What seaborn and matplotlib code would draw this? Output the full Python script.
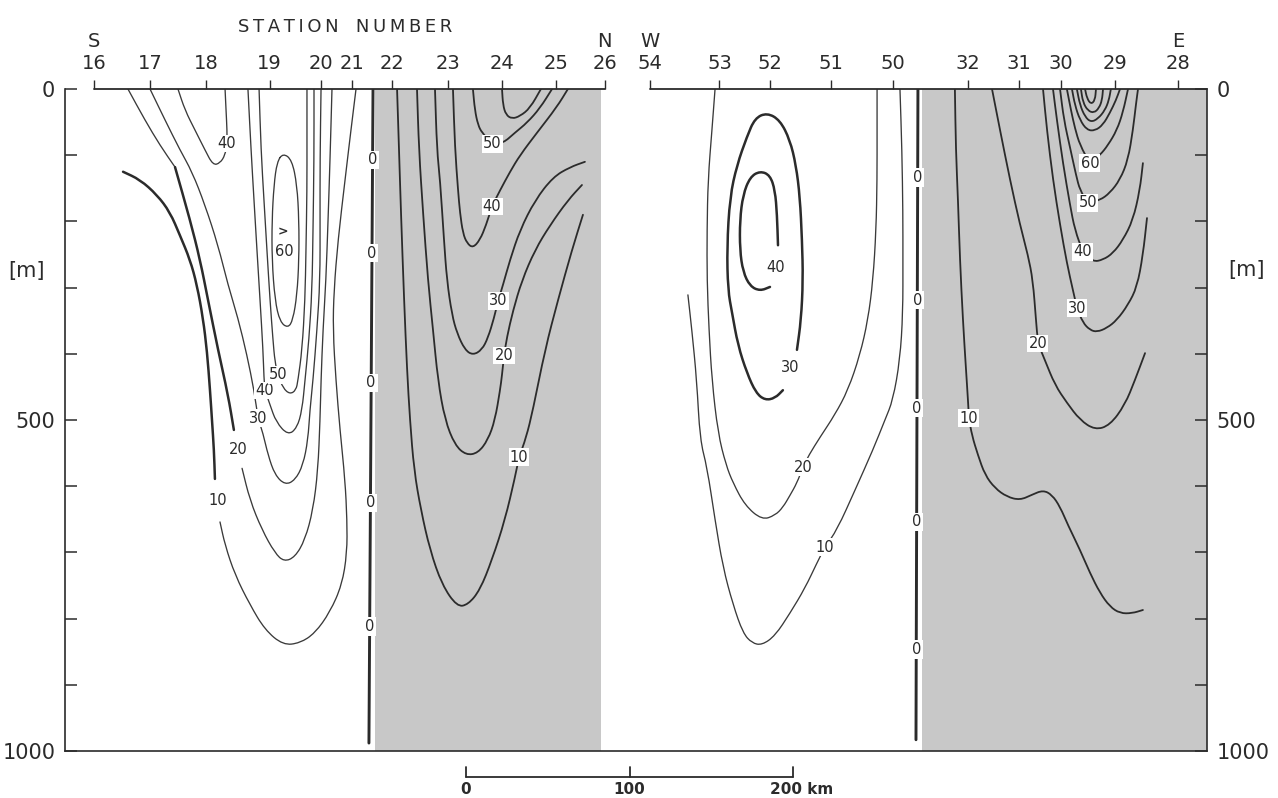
import matplotlib
matplotlib.use("Agg")
import numpy as np
import matplotlib.pyplot as plt
from matplotlib.path import Path
from matplotlib.patches import PathPatch
import seaborn as sns

# ---------------------------------------------------------------------------
# Section geometry: distance along the plotted track (km), depth (m)
# ---------------------------------------------------------------------------
sn_stations = ["16", "17", "18", "19", "20", "21", "22", "23", "24", "25", "26"]
sn_station_km = [18.0, 52.0, 86.2, 125.1, 156.3, 175.5, 199.9, 234.1, 267.1, 300.1, 330.0]
we_stations = ["54", "53", "52", "51", "50", "32", "31", "30", "29", "28"]
we_station_km = [357.8, 400.3, 431.2, 468.3, 506.3, 552.5, 583.3, 608.9, 642.2, 680.7]
track_end_km = 698.5

depth_ticks = [0, 100, 200, 300, 400, 500, 600, 700, 800, 900, 1000]
depth_labels = ["0", "", "", "", "", "500", "", "", "", "", "1000"]

# regions of negative values (shaded)
sn_shade_km = [189.5, 327.8]
we_shade_km = [524.0, 698.5]

# zero isolines
sn_zero_km = [188.4, 185.9]
sn_zero_m = [0, 988]
sn_zero_label_m = [107, 248, 444, 625, 812]
we_zero_km = [521.7, 520.5]
we_zero_m = [0, 983]
we_zero_label_m = [134, 319, 482, 654, 847]

# ---------------------------------------------------------------------------
# S-N section isolines
# ---------------------------------------------------------------------------
sn10_a_km = [35.5, 45.9, 56.3, 64.2, 70.3, 76.5, 80.7, 84.4, 86.9, 88.7, 89.9, 91.1, 91.7]
sn10_a_m = [125, 137, 160, 186, 221, 258, 296, 346, 397, 455, 500, 545, 589]
sn10_b_km = [94.8, 97.9, 104.0, 113.1, 122.3, 133.4, 143.7, 152.9, 162.1, 169.4, 172.5,
             172.5, 171.3, 168.2, 165.7, 163.9, 164.5, 167.0, 171.3, 174.9, 178.0]
sn10_b_m = [654, 689, 734, 779, 817, 840, 837, 822, 790, 749, 701,
            651, 591, 515, 440, 364, 304, 228, 137, 62, 0]

sn20_top_km = [38.5, 48.9, 58.1, 67.3]
sn20_top_m = [0, 47, 85, 118]
sn20_a_km = [67.3, 76.5, 82.6, 87.5, 93.6, 99.7, 103.3]
sn20_a_m = [118, 198, 258, 319, 394, 462, 515]
sn20_b_km = [108.3, 113.1, 120.5, 128.4, 134.0, 140.7, 146.8, 151.7, 154.7, 156.0,
             156.6, 157.8, 159.6, 160.9, 162.1, 163.3]
sn20_b_m = [573, 621, 666, 701, 714, 707, 681, 636, 576, 500,
            440, 364, 289, 198, 107, 0]

sn30_km = [52.0, 61.2, 70.3, 77.7, 85.6, 93.6, 99.7, 105.8, 111.3, 115.6, 118.0,
           121.1, 124.2, 128.4, 134.6, 140.7, 145.6, 148.6, 149.8, 151.7, 154.1,
           156.0, 156.0, 156.0, 156.6]
sn30_m = [0, 47, 92, 125, 175, 236, 296, 346, 402, 455, 497,
          520, 553, 583, 598, 591, 568, 530, 485, 440, 364,
          289, 198, 107, 0]

sn40_km = [111.9, 113.8, 115.6, 117.4, 119.3, 121.1, 121.7, 122.3, 125.4, 129.1,
           136.4, 141.9, 145.0, 146.8, 149.2, 151.1, 151.7, 152.3, 152.3]
sn40_m = [0, 92, 168, 243, 319, 394, 437, 455, 477, 503,
          523, 512, 485, 440, 379, 304, 213, 107, 0]

sn50_km = [118.7, 119.9, 121.7, 123.5, 125.4, 127.2, 128.4, 130.3, 133.4, 137.6,
           141.3, 142.5, 145.0, 146.8, 147.4, 148.0, 148.0, 148.0]
sn50_m = [0, 92, 168, 243, 319, 379, 412, 432, 452, 461,
          455, 440, 394, 319, 243, 153, 77, 0]

sn60_km = [133.4, 138.8, 141.9, 143.1, 143.1, 141.9, 139.4, 136.4, 131.5, 128.4,
           126.6, 126.6, 127.8, 129.7]
sn60_m = [97, 107, 145, 198, 258, 311, 349, 361, 352, 319, 258, 198, 145, 110]

sn40_top_km = [69.1, 73.4, 79.5, 85.6, 90.5, 94.8, 97.9, 99.1, 99.1, 98.5, 97.9]
sn40_top_m = [0, 32, 62, 92, 115, 112, 100, 82, 62, 32, 0]

# shaded part of the S-N section
sn_g10_km = [203.1, 204.3, 205.5, 207.4, 209.2, 211.0, 213.5, 217.7, 223.2, 230.6, 239.8,
             246.5, 253.8, 261.2, 269.1, 275.2, 277.7, 282.0, 286.2, 293.6, 301.5,
             310.1, 316.8]
sn_g10_m = [0, 92, 187, 319, 424, 500, 576, 636, 696, 749, 782,
            779, 757, 711, 651, 587, 556, 527, 485, 394, 319,
            243, 190]
sn_g20_km = [215.3, 216.5, 219.0, 222.0, 225.1, 228.1, 232.4, 238.5, 245.3, 252.6, 258.7,
             263.0, 266.1, 267.3, 268.5, 270.3, 274.0, 279.5, 287.5, 296.6, 307.6, 316.2]
sn_g20_m = [0, 92, 187, 289, 364, 440, 500, 538, 553, 550, 530,
            500, 455, 432, 403, 375, 335, 289, 243, 206, 168, 145]
sn_g30_km = [226.3, 227.5, 229.4, 231.8, 233.6, 236.7, 239.8, 244.6, 249.5, 255.0, 258.7,
             262.4, 264.9, 267.9, 272.2, 278.3, 287.5, 298.5, 308.9, 318.0]
sn_g30_m = [0, 92, 137, 228, 289, 341, 369, 394, 402, 394, 376,
            346, 320, 296, 258, 213, 168, 133, 118, 110]
sn_g40_km = [237.3, 238.5, 240.4, 241.6, 243.4, 245.9, 249.5, 253.8, 257.5, 261.2,
             266.1, 272.2, 278.3, 288.7, 300.9, 307.6]
sn_g40_m = [0, 88, 153, 187, 218, 233, 240, 228, 206, 177, 153, 125, 100, 66, 27, 0]
sn_g50_km = [249.5, 250.7, 252.6, 255.0, 261.2, 267.9, 275.2, 282.6, 290.5, 297.9]
sn_g50_m = [0, 32, 54, 66, 82, 82, 66, 51, 29, 0]
sn_g60_km = [267.3, 267.9, 269.7, 273.4, 278.3, 284.4, 291.1]
sn_g60_m = [0, 24, 39, 45, 41, 29, 0]

sn_label_text = ["10", "20", "30", "40", "50", "40", "50", "40", "30", "20", "10"]
sn_label_km = [93.6, 105.8, 118.0, 122.3, 130.3, 99.1, 261.2, 261.2, 264.9, 268.5, 277.7]
sn_label_m = [621, 545, 497, 455, 432, 82, 83, 177, 320, 403, 556]

# ---------------------------------------------------------------------------
# W-E section isolines
# ---------------------------------------------------------------------------
we40_km = [436.1, 435.5, 434.3, 431.2, 425.1, 419.0, 414.7, 412.8, 412.8, 414.7, 419.0, 425.1, 431.2]
we40_m = [236, 190, 153, 130, 124, 133, 160, 198, 243, 276, 298, 305, 299]
we30_km = [447.7, 450.2, 451.4, 450.8, 449.5, 447.1, 443.4, 437.3, 429.4, 422.0, 417.1,
           411.0, 406.7, 404.9, 405.5, 408.0, 411.6, 417.1, 422.6, 428.1, 434.3, 439.1]
we30_m = [394, 349, 289, 228, 163, 115, 77, 47, 36, 44, 72,
          115, 163, 239, 304, 338, 387, 429, 459, 470, 467, 455]
we20_km = [397.6, 395.7, 393.3, 392.7, 392.7, 393.9, 395.7, 399.4, 404.3, 408.6, 415.9,
           426.3, 434.3, 439.1, 443.4, 447.7, 451.4, 455.0, 461.8, 470.9, 478.9,
           486.2, 491.1, 494.2, 496.1, 496.7, 496.7, 496.7]
we20_m = [0, 62, 137, 213, 289, 364, 440, 520, 568, 595, 629,
          651, 644, 632, 614, 595, 571, 553, 526, 492, 455,
          402, 349, 289, 213, 137, 62, 0]
we10_km = [381.0, 383.4, 386.4, 388.4, 392.7, 397.6, 402.4, 408.6, 414.7, 420.2, 426.3,
           434.3, 443.4, 452.6, 459.9, 464.8, 472.2, 483.2, 494.2, 501.5, 506.4,
           510.7, 512.5, 512.5, 512.5, 511.9, 510.7]
we10_m = [311, 364, 440, 530, 571, 651, 722, 779, 822, 837, 840,
          826, 792, 754, 716, 692, 666, 606, 545, 500, 470,
          409, 338, 258, 187, 92, 0]

we_g10_km = [544.3, 544.9, 546.2, 547.4, 549.2, 551.1, 552.3, 552.9, 554.7, 558.4, 562.7,
             568.8, 576.1, 584.1, 591.4, 598.2, 603.7, 608.6, 613.5, 620.8, 626.9,
             633.0, 639.1, 645.3, 652.6, 659.3]
we_g10_m = [0, 92, 168, 258, 349, 424, 470, 497, 523, 553, 583,
            603, 616, 621, 613, 606, 613, 631, 659, 696, 731,
            761, 782, 792, 792, 787]
we_g20_km = [567.0, 571.9, 578.0, 584.1, 589.0, 592.0, 593.9, 595.1, 599.4, 605.5, 612.8,
             620.8, 630.0, 639.1, 648.3, 654.4, 660.6]
we_g20_m = [0, 62, 137, 205, 251, 289, 349, 384, 410, 447, 474,
            500, 515, 508, 477, 440, 399]
we_g30_km = [598.2, 600.6, 604.3, 608.6, 612.8, 616.5, 619.0, 622.6, 626.9, 631.2, 637.3,
             643.4, 650.2, 655.7, 659.3, 661.8]
we_g30_m = [0, 62, 137, 205, 263, 304, 331, 353, 364, 367, 361, 349, 326, 299, 251, 195]
we_g40_km = [604.3, 606.7, 610.4, 614.7, 617.7, 622.6, 628.7, 634.9, 641.0, 647.1, 653.2, 657.4, 659.3]
we_g40_m = [0, 47, 112, 175, 213, 246, 261, 258, 248, 228, 198, 153, 112]
we_g50_km = [608.6, 611.0, 614.7, 618.4, 620.8, 625.7, 633.0, 639.1, 645.3, 650.2, 653.2, 655.0, 656.3]
we_g50_m = [0, 47, 88, 130, 153, 172, 168, 157, 137, 107, 62, 24, 0]
we_g60_km = [612.8, 615.3, 617.7, 620.8, 626.9, 633.0, 637.9, 643.4, 647.1, 650.2]
we_g60_m = [0, 32, 59, 85, 112, 100, 85, 62, 35, 0]
we_g70_km = [615.9, 617.7, 620.8, 625.1, 630.0, 634.9, 639.1, 642.8, 645.3]
we_g70_m = [0, 24, 47, 62, 63, 54, 36, 17, 0]
we_g80_km = [618.9, 620.8, 623.9, 627.5, 631.8, 636.1, 638.5, 639.7]
we_g80_m = [0, 24, 42, 50, 45, 32, 17, 0]
we_g90_km = [621.4, 622.6, 625.7, 629.4, 632.4, 634.3, 634.9]
we_g90_m = [0, 20, 33, 36, 29, 17, 0]
we_g100_km = [623.9, 625.1, 627.5, 630.0, 630.6]
we_g100_m = [0, 14, 23, 17, 0]

we_label_text = ["40", "30", "20", "10", "10", "20", "30", "40", "50", "60"]
we_label_km = [434.9, 443.4, 451.4, 464.8, 552.9, 595.1, 619.0, 622.6, 625.7, 626.9]
we_label_m = [269, 420, 571, 692, 497, 384, 331, 246, 172, 112]

# distance scale
scale_origin_km = 245.3
scale_ticks_km = [0, 100, 200]

# ---------------------------------------------------------------------------
INK = "#2b2b2b"
INK_THIN = "#3a3a3a"
SHADE = "#c8c8c8"

sns.set_theme(style="white")
plt.rcParams["font.family"] = ["DejaVu Sans"]

fig = plt.figure(figsize=(12.78, 7.98), dpi=100, facecolor="white")
ax = fig.add_axes([65 / 1278, 47 / 798, 1142 / 1278, 662 / 798])
ax.set_facecolor("white")


def iso_path(xs, zs, closed=False):
    """Smooth quadratic path through the given isoline vertices."""
    pts = np.column_stack([xs, zs]).astype(float)
    if closed:
        mids = (pts + np.roll(pts, -1, axis=0)) / 2
        verts = [mids[-1]]
        codes = [Path.MOVETO]
        for i in range(len(pts)):
            verts += [pts[i], mids[i]]
            codes += [Path.CURVE3, Path.CURVE3]
        return Path(verts, codes)
    mids = (pts[:-1] + pts[1:]) / 2
    verts = [pts[0], mids[0]]
    codes = [Path.MOVETO, Path.LINETO]
    for i in range(1, len(pts) - 1):
        verts += [pts[i], mids[i]]
        codes += [Path.CURVE3, Path.CURVE3]
    verts.append(pts[-1])
    codes.append(Path.LINETO)
    return Path(verts, codes)


def draw_iso(xs, zs, lw, closed=False):
    color = INK if lw > 1.2 else INK_THIN
    ax.add_patch(PathPatch(iso_path(xs, zs, closed), fill=False, edgecolor=color,
                           lw=lw, capstyle="round", joinstyle="round", zorder=2))


# shading of negative region
for lo, hi in (sn_shade_km, we_shade_km):
    ax.axvspan(lo, hi, color=SHADE, lw=0, zorder=0)

THIN, MID, THICK = 0.95, 1.3, 1.8

draw_iso(sn10_a_km, sn10_a_m, THICK)
draw_iso(sn10_b_km, sn10_b_m, THIN)
draw_iso(sn20_top_km, sn20_top_m, THIN)
draw_iso(sn20_a_km, sn20_a_m, THICK)
draw_iso(sn20_b_km, sn20_b_m, THIN)
draw_iso(sn30_km, sn30_m, THIN)
draw_iso(sn40_km, sn40_m, THIN)
draw_iso(sn50_km, sn50_m, THIN)
draw_iso(sn60_km, sn60_m, THIN, closed=True)
draw_iso(sn40_top_km, sn40_top_m, THIN)
for xs, zs in ((sn_g10_km, sn_g10_m), (sn_g20_km, sn_g20_m), (sn_g30_km, sn_g30_m),
               (sn_g40_km, sn_g40_m), (sn_g50_km, sn_g50_m), (sn_g60_km, sn_g60_m)):
    draw_iso(xs, zs, MID)

draw_iso(we40_km, we40_m, THICK)
draw_iso(we30_km, we30_m, THICK)
draw_iso(we20_km, we20_m, THIN)
draw_iso(we10_km, we10_m, THIN)
for xs, zs in ((we_g10_km, we_g10_m), (we_g20_km, we_g20_m), (we_g30_km, we_g30_m),
               (we_g40_km, we_g40_m), (we_g50_km, we_g50_m), (we_g60_km, we_g60_m),
               (we_g70_km, we_g70_m), (we_g80_km, we_g80_m), (we_g90_km, we_g90_m),
               (we_g100_km, we_g100_m)):
    draw_iso(xs, zs, MID)

# zero isolines
for xs, zs, labs in ((sn_zero_km, sn_zero_m, sn_zero_label_m),
                     (we_zero_km, we_zero_m, we_zero_label_m)):
    sns.lineplot(x=xs, y=zs, sort=False, estimator=None, color=INK, lw=2.1, ax=ax, zorder=2)
    for z in labs:
        xz = np.interp(z, zs, xs)
        ax.text(xz, z, "0", ha="center", va="center", fontsize=10.5, color=INK, zorder=4,
                bbox=dict(boxstyle="square,pad=0.12", fc="white", ec="none"))

# isoline labels
for texts, xs, zs in ((sn_label_text, sn_label_km, sn_label_m),
                      (we_label_text, we_label_km, we_label_m)):
    for t, x, z in zip(texts, xs, zs):
        ax.text(x, z, t, ha="center", va="center", fontsize=10.5, color=INK, zorder=4,
                bbox=dict(boxstyle="square,pad=0.08", fc="white", ec="none"))
ax.text(133.4, 216, ">", ha="center", va="center", fontsize=9, fontweight="bold", color=INK)
ax.text(134.0, 245, "60", ha="center", va="center", fontsize=10.5, color=INK)

# station axis along the sea surface
ax.plot([sn_station_km[0], sn_station_km[-1]], [0, 0], color=INK, lw=1.3, clip_on=False, zorder=5)
ax.plot([we_station_km[0], track_end_km], [0, 0], color=INK, lw=1.3, clip_on=False, zorder=5)
ax.set_xticks(sn_station_km + we_station_km)
ax.set_xticklabels(sn_stations + we_stations)
ax.tick_params(axis="x", which="both", top=True, bottom=False, labeltop=True, labelbottom=False,
               direction="out", length=6.5, width=1.0, color=INK, labelcolor=INK,
               labelsize=14, pad=5)
for t, x in (("S", sn_station_km[0]), ("N", sn_station_km[-1]),
             ("W", we_station_km[0]), ("E", we_station_km[-1])):
    ax.text(x, -71, t, ha="center", va="center", fontsize=14, color=INK, clip_on=False)

ax.set_xlim(0, track_end_km)
ax.set_ylim(1000, 0)
ax.set_yticks(depth_ticks)
ax.set_yticklabels(depth_labels)
ax.tick_params(axis="y", which="both", left=True, right=True, labelleft=True, labelright=True,
               direction="in", length=8.5, width=1.1, color=INK, labelcolor=INK,
               labelsize=15, pad=7)
ax.set_xlabel("")
ax.set_ylabel("")
ax.spines["top"].set_visible(False)
for s in ("left", "right", "bottom"):
    ax.spines[s].set_color(INK)
    ax.spines[s].set_linewidth(1.2)

title_text = "\u2009".join("STATION") + "   " + "\u2009".join("NUMBER")
fig.text(345 / 1278, 1 - 27 / 798, title_text, ha="center", va="center",
         fontsize=13, color=INK)
fig.text(27 / 1278, 1 - 271 / 798, "[m]", ha="center", va="center", fontsize=15, color=INK)
fig.text(1247 / 1278, 1 - 270 / 798, "[m]", ha="center", va="center", fontsize=15, color=INK)

# distance scale below the sections
sb_x = [scale_origin_km + k for k in scale_ticks_km]
sns.lineplot(x=[sb_x[0], sb_x[-1]], y=[1040, 1040], sort=False, estimator=None, color=INK,
             lw=1.3, ax=ax, clip_on=False)
for x, k in zip(sb_x, scale_ticks_km):
    ax.plot([x, x], [1040, 1024], color=INK, lw=1.3, clip_on=False)
    lab = f"{k} km" if k == scale_ticks_km[-1] else f"{k}"
    ax.text(x if k != scale_ticks_km[-1] else x - 14, 1058, lab,
            ha="center" if k != scale_ticks_km[-1] else "left",
            va="center", fontsize=11, fontweight="bold", color=INK, clip_on=False)

ax.set_xlim(0, track_end_km)
ax.set_ylim(1000, 0)
fig.savefig("out.png", dpi=100, facecolor="white")
